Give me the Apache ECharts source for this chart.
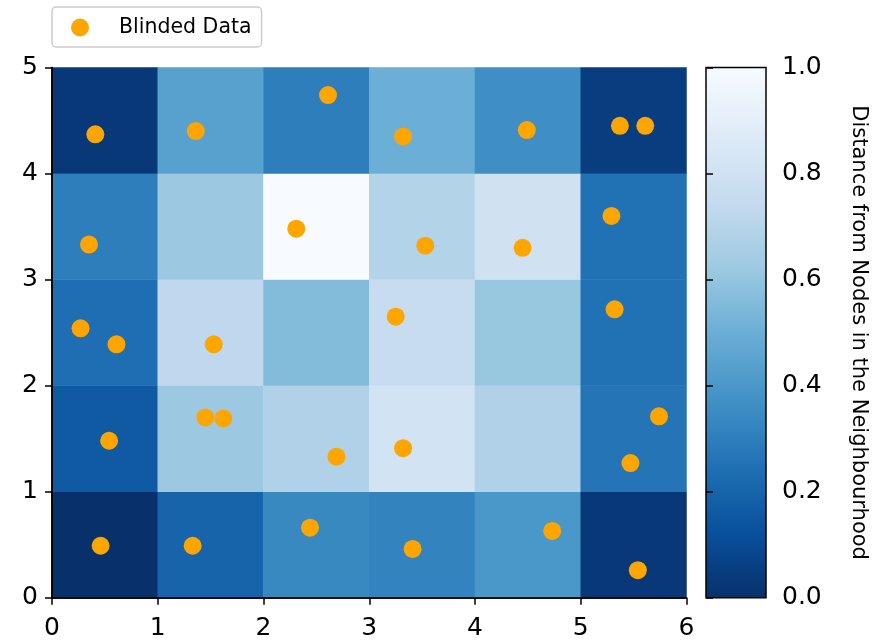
<!DOCTYPE html>
<html>
<head>
<meta charset="utf-8">
<script src="https://cdn.jsdelivr.net/npm/echarts@6/dist/echarts.min.js"></script>
<style>
html,body{margin:0;padding:0;background:#fff;}
#chart{width:873px;height:641px;}
</style>
</head>
<body>
<div id="chart"></div>
<script>
// ---- data ----
const colCategories = ['0', '1', '2', '3', '4', '5'];
const rowCategories = ['0', '1', '2', '3', '4'];
// heat values, one array per row (bottom row first), one value per column
const row0 = [0.00, 0.20, 0.34, 0.32, 0.40, 0.03];
const row1 = [0.16, 0.62, 0.68, 0.81, 0.68, 0.26];
const row2 = [0.24, 0.73, 0.56, 0.76, 0.61, 0.25];
const row3 = [0.30, 0.62, 1.00, 0.69, 0.80, 0.25];
const row4 = [0.03, 0.44, 0.30, 0.50, 0.365, 0.05];
const heatRows = [row0, row1, row2, row3, row4];

const pointsX = [0.41, 1.36, 2.61, 3.32, 4.49, 5.37, 5.61,
                 0.35, 2.31, 3.53, 4.45, 5.29,
                 0.27, 0.61, 1.53, 3.25, 5.32,
                 1.45, 1.62, 0.54, 2.69, 3.32, 5.74, 5.47,
                 0.46, 1.33, 2.44, 3.41, 4.73, 5.54];
const pointsY = [4.37, 4.40, 4.74, 4.35, 4.41, 4.45, 4.45,
                 3.33, 3.48, 3.32, 3.30, 3.60,
                 2.54, 2.39, 2.39, 2.65, 2.72,
                 1.70, 1.69, 1.48, 1.33, 1.41, 1.71, 1.27,
                 0.49, 0.49, 0.66, 0.46, 0.63, 0.26];

const xTicks = [0, 1, 2, 3, 4, 5, 6];
const yTicks = [0, 1, 2, 3, 4, 5];
const cbarTicks = [0.0, 0.2, 0.4, 0.6, 0.8, 1.0];

const seriesName = 'Blinded Data';
const cbarLabel = 'Distance from Nodes in the Neighbourhood';

// Blues_r colour stops (0 -> dark, 1 -> light)
const bluesR = ['#08306b', '#08519c', '#2171b5', '#4292c6', '#6baed6',
                '#9ecae1', '#c6dbef', '#deebf7', '#f7fbff'];

// ---- build ----
const heatData = [];
heatRows.forEach((row, r) => row.forEach((v, c) => heatData.push([c, r, v])));
const scatterData = pointsX.map((x, i) => [x, pointsY[i]]);

const FONT = 'DejaVu Sans';
const tickFont = 25;

const chart = echarts.init(document.getElementById('chart'), null, {renderer: 'canvas'});
chart.setOption({
  animation: false,
  backgroundColor: '#ffffff',
  textStyle: {fontFamily: FONT, color: '#000'},
  legend: {
    data: [{name: seriesName, icon: 'circle'}],
    left: 52, top: 7,
    padding: [10, 10, 9, 19],
    itemWidth: 18, itemHeight: 18,
    borderColor: '#cccccc', borderWidth: 1.5, borderRadius: 4,
    backgroundColor: '#ffffff',
    textStyle: {fontFamily: FONT, fontSize: 20.5, color: '#000', padding: [0, 0, 0, 25]}
  },
  grid: [
    {left: 52, top: 67.5, width: 634.5, height: 530.2, containLabel: false},
    {left: 706, top: 67.5, width: 60, height: 530.2, containLabel: false}
  ],
  xAxis: [
    {gridIndex: 0, type: 'category', data: colCategories, position: 'top', z: 10,
     axisLine: {show: true, lineStyle: {color: '#000', width: 1.5}},
     axisTick: {show: false}, axisLabel: {show: false}, splitLine: {show: false}},
    {gridIndex: 0, type: 'value', min: 0, max: 6, interval: 1, position: 'bottom', z: 10,
     axisLine: {show: true, onZero: false, lineStyle: {color: '#000', width: 1.5}},
     axisTick: {show: true, length: 7, lineStyle: {color: '#000', width: 1.5}},
     axisLabel: {fontFamily: FONT, fontSize: tickFont, color: '#000', margin: 18,
                 formatter: v => String(v)},
     splitLine: {show: false}},
    {gridIndex: 1, type: 'value', min: 0, max: 1, show: false}
  ],
  yAxis: [
    {gridIndex: 0, type: 'category', data: rowCategories, position: 'right', z: 10,
     axisLine: {show: true, lineStyle: {color: '#000', width: 1.5}},
     axisTick: {show: false}, axisLabel: {show: false}, splitLine: {show: false}},
    {gridIndex: 0, type: 'value', min: 0, max: 5, interval: 1, position: 'left', z: 10,
     axisLine: {show: true, onZero: false, lineStyle: {color: '#000', width: 1.5}},
     axisTick: {show: true, length: 7, lineStyle: {color: '#000', width: 1.5}},
     axisLabel: {fontFamily: FONT, fontSize: tickFont, color: '#000', margin: 14,
                 formatter: v => String(v)},
     splitLine: {show: false}},
    {gridIndex: 1, type: 'value', min: 0, max: 1, interval: 0.2, position: 'right', z: 10,
     axisLine: {show: false},
     axisTick: {show: true, length: 7, lineStyle: {color: '#000', width: 1.5}},
     axisLabel: {fontFamily: FONT, fontSize: tickFont, color: '#000', margin: 16,
                 formatter: v => v.toFixed(1)},
     splitLine: {show: false},
     name: cbarLabel, nameLocation: 'middle', nameRotate: -90, nameGap: 82,
     nameTextStyle: {fontFamily: FONT, fontSize: 21, color: '#000'}}
  ],
  visualMap: {
    show: false, type: 'continuous', min: 0, max: 1, seriesIndex: 0,
    inRange: {color: bluesR}
  },
  series: [
    {
      type: 'heatmap', xAxisIndex: 0, yAxisIndex: 0, data: heatData,
      itemStyle: {borderWidth: 0}, emphasis: {disabled: true}, z: 1
    },
    {
      name: seriesName, type: 'scatter', xAxisIndex: 1, yAxisIndex: 1,
      data: scatterData, symbol: 'circle', symbolSize: 18,
      itemStyle: {color: '#ffa500', opacity: 1}, z: 5
    },
    {
      type: 'custom', xAxisIndex: 2, yAxisIndex: 2, data: [[0, 0, 1, 1]],
      renderItem: function (params, api) {
        const p0 = api.coord([api.value(0), api.value(3)]);
        const p1 = api.coord([api.value(2), api.value(1)]);
        const stops = bluesR.map((c, i) => ({offset: 1 - i / (bluesR.length - 1), color: c}));
        stops.reverse();
        return {
          type: 'rect',
          shape: {x: p0[0], y: p0[1], width: p1[0] - p0[0], height: p1[1] - p0[1]},
          style: {
            fill: new echarts.graphic.LinearGradient(0, 0, 0, 1, stops),
            stroke: '#000', lineWidth: 1.5
          }
        };
      },
      z: 2
    }
  ]
});
</script>
</body>
</html>
